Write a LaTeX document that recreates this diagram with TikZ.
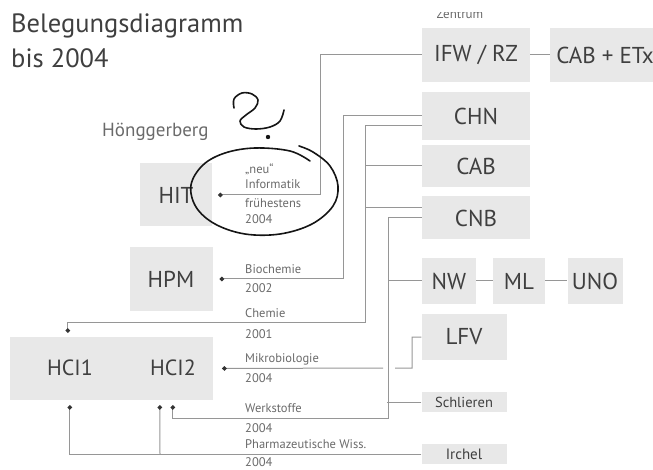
\documentclass[tikz,border=0pt]{standalone}
\usepackage{fontspec}
\setmainfont{PT Sans}
\usetikzlibrary{arrows.meta,calc,positioning}
\definecolor{BoxGrey}{HTML}{E8E8E8}
\definecolor{TextGrey}{HTML}{3F3F3F}
\definecolor{LineGrey}{HTML}{969696}
\definecolor{LabelGrey}{HTML}{6A6A6A}
\definecolor{Ink}{HTML}{151515}

\tikzset{
  bldg/.style={fill=BoxGrey, text=TextGrey, inner sep=0pt, font=\fontsize{23}{23}\selectfont},
  wire/.style={draw=LineGrey, line width=1pt},
  feed/.style={wire, -{Circle[length=4.5pt, fill=black!80, color=black!80]}},
  lbl/.style={text=LabelGrey, font=\fontsize{12.5}{14}\selectfont, inner sep=0pt, anchor=base west},
  ink/.style={draw=Ink, line width=1.6pt, line cap=round, line join=round},
}

\begin{document}
\begin{tikzpicture}[x=1pt, y=-1pt]
    \useasboundingbox (0,0) rectangle (653,470);

    % Title
    \node[text=TextGrey, font=\fontsize{26.5}{26.5}\selectfont, inner sep=0pt, anchor=base west] (title) at (11,33) {Belegungsdiagramm};
    \node[text=TextGrey, font=\fontsize{26.5}{26.5}\selectfont, inner sep=0pt, anchor=base west] (titleb) at (11,68) {bis 2004};
    \node[text=LabelGrey, font=\fontsize{19}{19}\selectfont, inner sep=0pt, anchor=base west] (hoengg) at (102,137) {Hönggerberg};
    \begin{scope}
        \clip (410,13) rectangle (520,30);
        \node[text=LabelGrey, font=\fontsize{13}{13}\selectfont, inner sep=0pt, anchor=base] (zentrum) at (460,19) {Zentrum};
    \end{scope}

    % Zentrum buildings
    \node[bldg, minimum width=108pt, minimum height=54pt] (ifw) at (476,55) {IFW / RZ};
    \node[bldg, minimum width=110pt, minimum height=54pt] (cabetx) at (605,55) {CAB + ETx};
    \node[bldg, minimum width=108pt, minimum height=48pt] (chn) at (476,116) {CHN};
    \node[bldg, minimum width=108pt, minimum height=42pt] (cab) at (476,166) {CAB};
    \node[bldg, minimum width=108pt, minimum height=43pt] (cnb) at (476,218) {CNB};
    \node[bldg, minimum width=54pt, minimum height=46pt] (nw) at (449,281) {NW};
    \node[bldg, minimum width=52pt, minimum height=46pt] (ml) at (519,281) {ML};
    \node[bldg, minimum width=55pt, minimum height=46pt] (uno) at (595,281) {UNO};
    \node[bldg, minimum width=85pt, minimum height=46pt] (lfv) at (464,337) {LFV};
    \node[bldg, minimum width=85pt, minimum height=20pt, font=\fontsize{14.5}{14.5}\selectfont] (schlieren) at (464,402) {Schlieren};
    \node[bldg, minimum width=85pt, minimum height=20pt, font=\fontsize{15}{15}\selectfont] (irchel) at (464,454) {Irchel};

    % Hoenggerberg buildings
    \node[bldg, minimum width=72pt, minimum height=63pt] (hit) at (176,195) {HIT};
    \node[bldg, minimum width=83pt, minimum height=64pt] (hpm) at (171,279) {HPM};
    \node[bldg, minimum width=203pt, minimum height=63pt] (hci) at (111.5,368.5) {};
    \node[text=TextGrey, font=\fontsize{22}{22}\selectfont] (hcione) at (70,368) {HCI1};
    \node[text=TextGrey, font=\fontsize{22}{22}\selectfont] (hcitwo) at (173,368) {HCI2};

    % Links inside Zentrum
    \draw[wire] (ifw.east) -- (cabetx.west);
    \draw[wire] (nw.east) -- (ml.west);
    \draw[wire] (ml.east) -- (uno.west);

    % Informatik
    \draw[feed] (ifw.west) -| (320,195) -- ($(hit.east)+(6,0)$);
    \node[lbl] (infoA) at (245,174) {„neu“};
    \node[lbl] (infoB) at (245,189) {Informatik};
    \node[lbl] (infoC) at (245,208) {frühestens};
    \node[lbl] (infoD) at (245,224) {2004};

    % Biochemie
    \draw[feed] (chn.west) -| (343,279) -- ($(hpm.east)+(7,0)$);
    \node[lbl] (bioA) at (245,273) {Biochemie};
    \node[lbl] (bioB) at (245,293) {2002};

    % Chemie
    \draw[feed] ($(chn.west)+(0,10)$) -| (365,322) -| ($(hci.north west)+(58,-4)$);
    \draw[wire] (cab.west) -- ++(-57,0);
    \draw[wire] ($(cnb.west)+(0,-10)$) -- ++(-57,0);
    \node[lbl] (chemA) at (245,317) {Chemie};
    \node[lbl] (chemB) at (245,338) {2001};

    % Mikrobiologie (gap where it crosses the Werkstoffe line)
    \draw[feed] (lfv.west) -| (412,368) -- (395,368) (383,368) -- ($(hci.east)+(9,0)$);
    \node[lbl] (mikroA) at (245,362) {Mikrobiologie};
    \node[lbl] (mikroB) at (245,382) {2004};

    % Werkstoffe
    \draw[feed] (cnb.west) -| (388,418) -| ($(hci.south west)+(163,5)$);
    \draw[wire] (nw.west) -- ++(-34,0);
    \draw[wire] (schlieren.west) -- ++(-34,0);
    \node[lbl] (werkA) at (245,412) {Werkstoffe};
    \node[lbl] (werkB) at (245,432) {2004};

    % Pharmazeutische Wissenschaften
    \draw[feed] (irchel.west) -| ($(hci.south west)+(60,5)$);
    \draw[feed] (160,454) -- ($(hci.south west)+(150,5)$);
    \node[lbl] (pharmA) at (245,448) {Pharmazeutische Wiss.};
    \node[lbl] (pharmB) at (245,466) {2004};

    % Handwritten marks
    \draw[ink] plot[smooth, tension=0.6] coordinates {(234,108) (234,99) (242,93) (252,94) (258,100) (255,108) (246,115) (240,121) (244,127) (256,129) (270,127) (280,121) (284,110)};
    \fill[Ink] (268,137) circle (2.2);
    \draw[ink] plot[smooth, tension=0.6] coordinates {(310,161) (290,151) (255,148) (225,153) (203,165) (191,185) (196,207) (215,224) (245,234) (280,234) (312,224) (333,206) (338,186) (330,166) (313,152) (299,146)};
\end{tikzpicture}
\end{document}
